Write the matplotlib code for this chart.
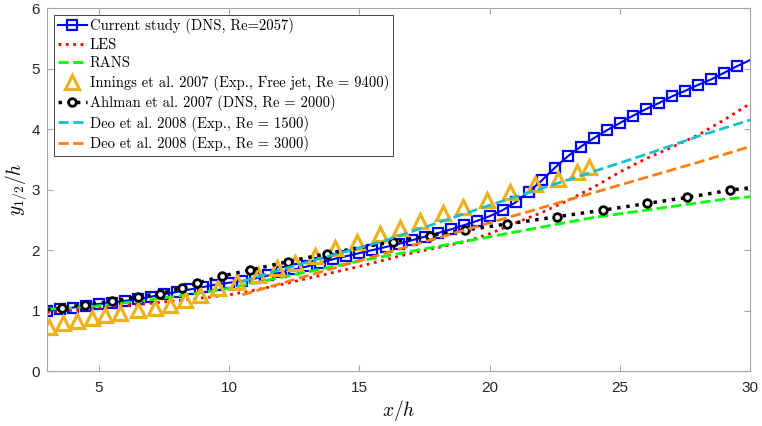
import numpy as np
import matplotlib
matplotlib.use("Agg")
import matplotlib.pyplot as plt

plt.rcParams['mathtext.fontset'] = 'cm'

# current study (DNS), markers on every point except the last
x_dns = [3, 3.5, 4, 4.5, 5, 5.5, 6, 6.5, 7, 7.5, 8, 8.5, 9, 9.5, 10, 10.5, 11, 11.5,
         12, 12.5, 13, 13.5, 14, 14.5, 15, 15.5, 16, 16.5, 17, 17.5, 18, 18.5, 19,
         19.5, 20, 20.5, 21, 21.5, 22, 22.5, 23, 23.5, 24, 24.5, 25, 25.5, 26, 26.5,
         27, 27.5, 28, 28.5, 29, 29.5, 30]
y_dns = [1.00, 1.02, 1.05, 1.08, 1.11, 1.13, 1.16, 1.19, 1.23, 1.27, 1.31, 1.35, 1.39,
         1.43, 1.46, 1.49, 1.53, 1.58, 1.63, 1.68, 1.73, 1.79, 1.85, 1.90, 1.95, 2.00,
         2.05, 2.10, 2.16, 2.22, 2.28, 2.34, 2.41, 2.48, 2.56, 2.66, 2.79, 2.96, 3.15,
         3.36, 3.55, 3.71, 3.85, 3.98, 4.10, 4.22, 4.33, 4.43, 4.54, 4.63, 4.73, 4.82,
         4.93, 5.04, 5.14]

x_les = [3, 5, 7, 9, 10, 11, 12, 13, 14, 15, 16, 17, 18, 19, 20, 21, 22, 23, 24, 25,
         26, 27, 28, 29, 30]
y_les = [0.97, 1.04, 1.12, 1.21, 1.26, 1.34, 1.43, 1.53, 1.63, 1.73, 1.84, 1.95, 2.04,
         2.13, 2.27, 2.45, 2.62, 2.82, 3.04, 3.29, 3.51, 3.70, 3.90, 4.15, 4.42]

x_rans = [3, 5, 7, 9, 10, 11, 12, 13, 14, 15, 16, 17, 18, 19, 20, 21, 22, 23, 24, 25,
          26, 27, 28, 29, 30]
y_rans = [1.02, 1.08, 1.18, 1.30, 1.37, 1.46, 1.55, 1.64, 1.73, 1.82, 1.90, 1.98, 2.06,
          2.14, 2.22, 2.30, 2.38, 2.46, 2.54, 2.60, 2.66, 2.72, 2.78, 2.84, 2.88]

x_inn = [3.09, 3.63, 4.14, 4.72, 5.23, 5.8, 6.5, 7.15, 7.72, 8.3, 8.88, 9.58, 10.29,
         11.12, 11.82, 12.52, 13.29, 14.06, 14.89, 15.79, 16.56, 17.32, 18.22, 18.99,
         19.88, 20.78, 21.74, 22.63, 23.34, 23.82]
y_inn = [0.73, 0.79, 0.83, 0.88, 0.93, 0.96, 1.01, 1.05, 1.10, 1.18, 1.26, 1.37, 1.48,
         1.59, 1.70, 1.78, 1.90, 2.03, 2.14, 2.27, 2.36, 2.48, 2.62, 2.72, 2.83, 2.96,
         3.10, 3.18, 3.29, 3.38]

x_ahl = [3, 3.56, 4.46, 5.48, 6.5, 7.34, 8.17, 8.75, 9.71, 10.8, 12.27, 13.74, 16.3,
         17.7, 19.05, 20.65, 22.57, 24.36, 26.03, 27.59, 29.23, 30]
y_ahl = [1.02, 1.04, 1.10, 1.15, 1.23, 1.28, 1.37, 1.45, 1.57, 1.67, 1.81, 1.94, 2.14,
         2.24, 2.33, 2.43, 2.55, 2.66, 2.77, 2.87, 2.99, 3.03]

x_deo1 = [10.5, 12, 14, 16, 18, 20, 22, 24, 26, 28, 30]
y_deo1 = [1.48, 1.68, 1.92, 2.16, 2.45, 2.74, 3.02, 3.30, 3.58, 3.88, 4.15]

x_deo3 = [10.5, 12, 14, 16, 18, 20, 22, 24, 26, 28, 30]
y_deo3 = [1.26, 1.45, 1.70, 1.95, 2.20, 2.45, 2.70, 2.95, 3.20, 3.45, 3.71]

fig = plt.figure(figsize=(7.62, 4.26), dpi=100)
ax = fig.add_axes([0.0617, 0.129, 0.9226, 0.852])

ax.plot(x_dns, y_dns, '-s', color='blue', lw=1.5, ms=7.5, mfc='none', mew=1.6,
        markevery=list(range(len(x_dns) - 1)), label='Current study (DNS, Re=2057)')
ax.plot(x_les, y_les, ':', color='red', lw=2, label='LES')
ax.plot(x_rans, y_rans, '--', color='#00ff00', lw=2, label='RANS')
ax.plot(x_inn, y_inn, '^', color='#EDB120', ms=9.5, mfc='none', mew=2.3, ls='none',
        label='Innings et al. 2007 (Exp., Free jet, Re = 9400)')
ax.plot(x_ahl, y_ahl, ':o', color='black', lw=2.5, ms=5.5, mfc='white', mew=2,
        markevery=list(range(1, len(x_ahl) - 1)),
        label='Ahlman et al. 2007 (DNS, Re = 2000)')
ax.plot(x_deo1, y_deo1, '--', color='#1ABFCF', lw=2, label='Deo et al. 2008 (Exp., Re = 1500)')
ax.plot(x_deo3, y_deo3, '--', color='#FF7F0E', lw=2, label='Deo et al. 2008 (Exp., Re = 3000)')

ax.set_xlim(3, 30)
ax.set_ylim(0, 6)
ax.set_xticks([5, 10, 15, 20, 25, 30])
ax.set_yticks([0, 1, 2, 3, 4, 5, 6])

for s in ax.spines.values():
    s.set_color('#a6a6a6')
    s.set_linewidth(0.8)
ax.tick_params(direction='in', length=4, width=0.8, color='#a6a6a6',
               top=True, right=True, labelsize=11, labelcolor='#262626')
ax.tick_params(axis='x', pad=7)
ax.tick_params(axis='y', pad=5)
for lab in ax.get_xticklabels() + ax.get_yticklabels():
    lab.set_fontfamily('Liberation Sans')

ax.set_xlabel('$x/h$', fontsize=14, labelpad=2)
ax.set_ylabel('$y_{1/2}/h$', fontsize=14, labelpad=2)

leg = ax.legend(loc='upper left', bbox_to_anchor=(0.006, 0.99), prop={'family': 'cmr10', 'size': 10.5},
                handlelength=2.0, handletextpad=0.2, labelspacing=0.3, borderpad=0.25,
                borderaxespad=0.2, fancybox=False, framealpha=1, edgecolor='#262626')
leg.get_frame().set_linewidth(0.6)

fig.savefig('out.png', dpi=100)
